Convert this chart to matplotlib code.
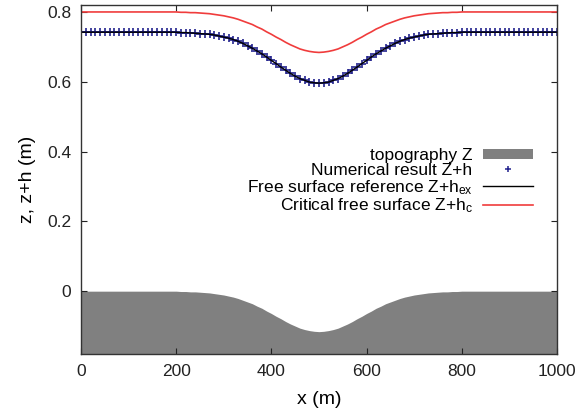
#!/usr/bin/env python3
import matplotlib
matplotlib.use("Agg")
import matplotlib.pyplot as plt
import numpy as np
from matplotlib.lines import Line2D
from matplotlib.patches import Patch

# grid of the 1D run, every 10 m
X = np.linspace(0, 1000, 101)

# topography Z (m)
TOPO = [
    0.000, 0.000, 0.000, 0.000, 0.000, 0.000, 0.000, 0.000, 0.000, 0.000,
    0.000, 0.000, 0.000, 0.000, 0.000, 0.000, 0.000, 0.000, 0.000, 0.000,
    0.000, -0.001, -0.001, -0.002, -0.002, -0.003, -0.004, -0.005, -0.007, -0.009,
    -0.011, -0.014, -0.017, -0.021, -0.026, -0.031, -0.036, -0.043, -0.049, -0.057,
    -0.064, -0.072, -0.079, -0.087, -0.094, -0.100, -0.106, -0.110, -0.113, -0.115,
    -0.116, -0.115, -0.113, -0.110, -0.106, -0.100, -0.094, -0.087, -0.079, -0.072,
    -0.064, -0.057, -0.049, -0.043, -0.036, -0.031, -0.026, -0.021, -0.017, -0.014,
    -0.011, -0.009, -0.007, -0.005, -0.004, -0.003, -0.002, -0.002, -0.001, -0.001,
    0.000, 0.000, 0.000, 0.000, 0.000, 0.000, 0.000, 0.000, 0.000, 0.000,
    0.000, 0.000, 0.000, 0.000, 0.000, 0.000, 0.000, 0.000, 0.000, 0.000,
    0.000,
]

# free surface reference Z+h_ex (m)
FREE_REF = [
    0.742, 0.742, 0.742, 0.742, 0.742, 0.742, 0.742, 0.742, 0.742, 0.742,
    0.742, 0.742, 0.742, 0.742, 0.742, 0.742, 0.742, 0.742, 0.742, 0.742,
    0.742, 0.741, 0.741, 0.740, 0.739, 0.738, 0.737, 0.736, 0.734, 0.731,
    0.728, 0.725, 0.721, 0.716, 0.710, 0.703, 0.696, 0.688, 0.680, 0.671,
    0.661, 0.652, 0.642, 0.633, 0.624, 0.616, 0.609, 0.604, 0.599, 0.597,
    0.596, 0.597, 0.599, 0.604, 0.609, 0.616, 0.624, 0.633, 0.642, 0.652,
    0.661, 0.671, 0.680, 0.688, 0.696, 0.703, 0.710, 0.716, 0.721, 0.725,
    0.728, 0.731, 0.734, 0.736, 0.737, 0.738, 0.739, 0.740, 0.741, 0.741,
    0.742, 0.742, 0.742, 0.742, 0.742, 0.742, 0.742, 0.742, 0.742, 0.742,
    0.742, 0.742, 0.742, 0.742, 0.742, 0.742, 0.742, 0.742, 0.742, 0.742,
    0.742,
]

# numerical result Z+h sits on the reference curve
NUMERICAL = list(FREE_REF)

# critical free surface Z+h_c (m); the curve is drawn up from 0 at x=0
CRIT_START = 0.0
CRITICAL = [
    0.800, 0.800, 0.800, 0.800, 0.800, 0.800, 0.800, 0.800, 0.800, 0.800,
    0.800, 0.800, 0.800, 0.800, 0.800, 0.800, 0.800, 0.800, 0.800, 0.800,
    0.800, 0.799, 0.799, 0.798, 0.798, 0.797, 0.796, 0.795, 0.793, 0.791,
    0.789, 0.786, 0.783, 0.779, 0.774, 0.769, 0.764, 0.757, 0.751, 0.743,
    0.736, 0.728, 0.721, 0.713, 0.706, 0.700, 0.694, 0.690, 0.687, 0.685,
    0.684, 0.685, 0.687, 0.690, 0.694, 0.700, 0.706, 0.713, 0.721, 0.728,
    0.736, 0.743, 0.751, 0.757, 0.764, 0.769, 0.774, 0.779, 0.783, 0.786,
    0.789, 0.791, 0.793, 0.795, 0.796, 0.797, 0.798, 0.798, 0.799, 0.799,
    0.800, 0.800, 0.800, 0.800, 0.800, 0.800, 0.800, 0.800, 0.800, 0.800,
    0.800, 0.800, 0.800, 0.800, 0.800, 0.800, 0.800, 0.800, 0.800, 0.800,
    0.800,
]

Y_MIN, Y_MAX = -0.18, 0.82
X_TICKS = [0, 200, 400, 600, 800, 1000]
Y_TICKS = [0, 0.2, 0.4, 0.6, 0.8]

GRAY = "#808080"
NAVY = "#22228e"
RED = "#f03c3c"

plt.rcParams["font.family"] = ["Liberation Sans", "DejaVu Sans"]
plt.rcParams["mathtext.default"] = "regular"

fig = plt.figure(figsize=(5.84, 4.15), dpi=100)
ax = fig.add_axes([0.1387, 0.147, 0.815, 0.841])

ax.fill_between(X, TOPO, Y_MIN, color=GRAY, linewidth=0, zorder=1)
ax.plot(X, FREE_REF, color="black", linewidth=1.0, zorder=3)
ax.plot(X, NUMERICAL, linestyle="none", marker="+", markersize=5.5,
        markeredgewidth=1.2, color=NAVY, zorder=2)
ax.plot(np.concatenate([[X[0]], X]), [CRIT_START] + CRITICAL,
        color=RED, linewidth=1.2, zorder=4)

ax.set_xlim(0, 1000)
ax.set_ylim(Y_MIN, Y_MAX)
ax.set_xticks(X_TICKS)
ax.set_yticks(Y_TICKS)
ax.set_yticklabels(["0", "0.2", "0.4", "0.6", "0.8"])
ax.tick_params(direction="in", length=4, width=0.8, labelsize=12.5,
               top=True, right=True, pad=7, colors="#222222")
for spine in ax.spines.values():
    spine.set_color("#333333")
    spine.set_linewidth(1.0)
    spine.set_zorder(5)

ax.set_xlabel("x (m)", fontsize=14, labelpad=9)
ax.set_ylabel("z, z+h (m)", fontsize=14, labelpad=8)

handles = [
    Patch(facecolor=GRAY, edgecolor="none"),
    Line2D([], [], linestyle="none", marker="+", markersize=5,
           markeredgewidth=1.1, color=NAVY),
    Line2D([], [], color="black", linewidth=1.0),
    Line2D([], [], color=RED, linewidth=1.2),
]
labels = [
    "topography Z",
    "Numerical result Z+h",
    "Free surface reference Z+h$_{ex}$",
    "Critical free surface Z+h$_{c}$",
]
ax.legend(handles, labels, loc="upper right", bbox_to_anchor=(0.965, 0.61),
          frameon=False, markerfirst=False, fontsize=12.5, handlelength=2.9,
          handleheight=0.5, handletextpad=0.6, labelspacing=0.0,
          borderaxespad=0.0)

fig.savefig("out.png", dpi=100)
plt.close(fig)
